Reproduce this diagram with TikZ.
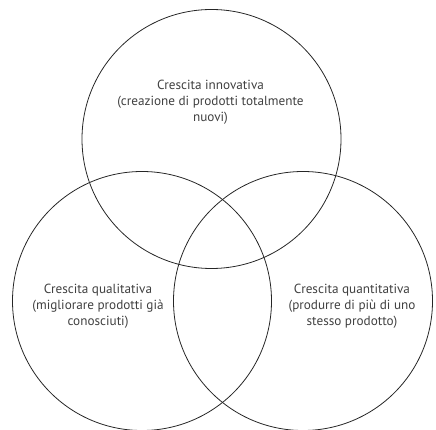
\documentclass[tikz,border=0pt]{standalone}
\usepackage{fontspec}
\setmainfont{PT Sans}
\begin{document}
\begin{tikzpicture}[x=1pt,y=-1pt,
  ring/.style={draw=black!85, line width=0.8pt, circle, minimum size=259pt, inner sep=0pt},
  lbl/.style={align=center, text=black!75, font=\fontsize{13.2}{16}\selectfont, inner sep=0pt}]
\useasboundingbox (0,0) rectangle (436,430);
\clip (0,0) rectangle (436,430);
\node[ring] (top) at (211.5,139) {};
\node[ring] (left) at (142,301) {};
\node[ring] (right) at (303,301) {};
\node[lbl] (ttop) at (210.5,102) {Crescita innovativa\\(creazione di prodotti totalmente\\nuovi)};
\node[lbl] (tleft) at (98,306) {Crescita qualitativa\\(migliorare prodotti già\\conosciuti)};
\node[lbl] (tright) at (352,306) {Crescita quantitativa\\(produrre di più di uno\\stesso prodotto)};
\end{tikzpicture}
\end{document}
